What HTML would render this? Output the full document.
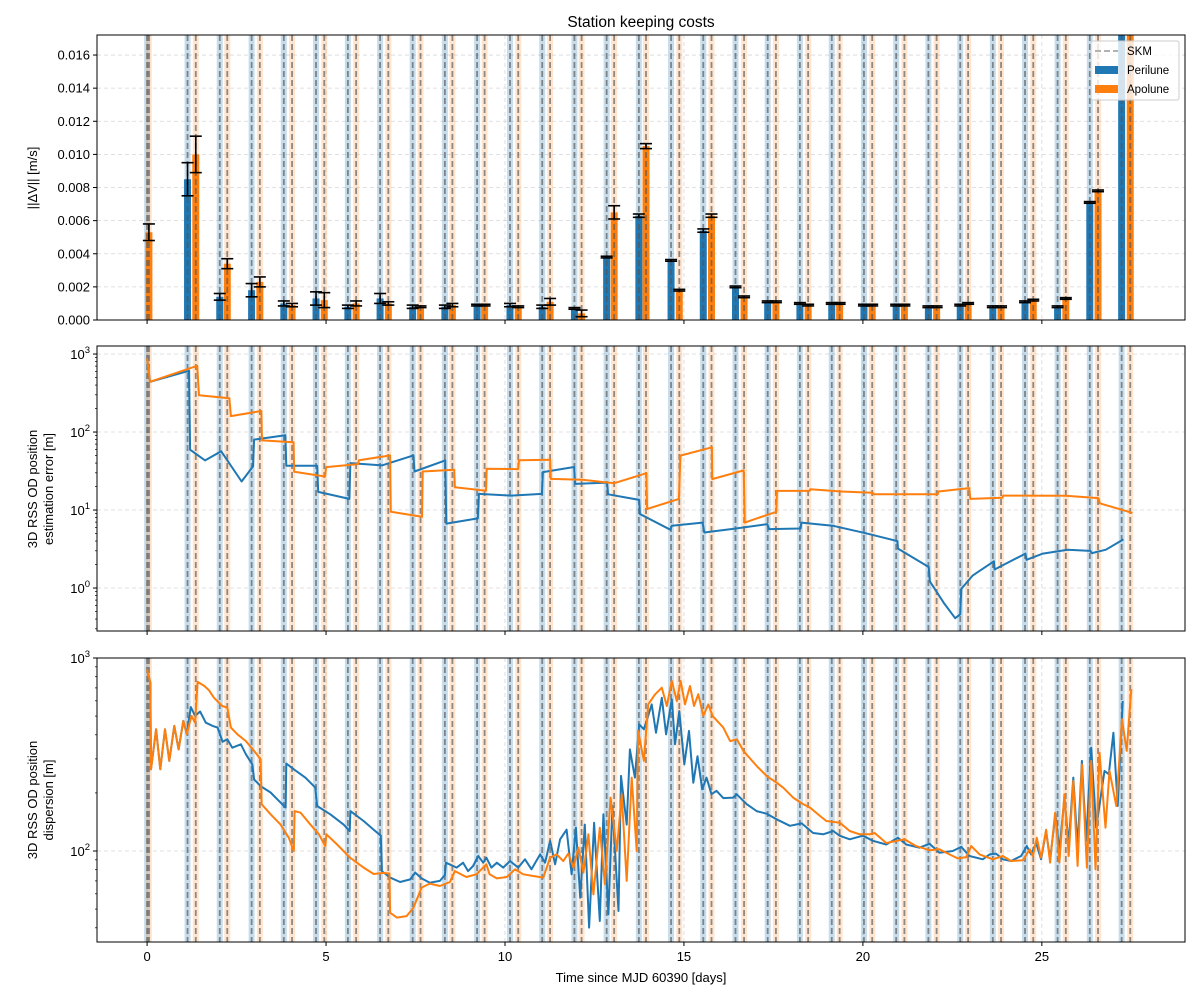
<!DOCTYPE html>
<html><head><meta charset="utf-8"><style>
html,body{margin:0;padding:0;background:#fff;}
svg text{font-family:"Liberation Sans","DejaVu Sans",sans-serif;fill:#000;}
</style></head><body>
<svg id="chart" width="1200" height="1000" viewBox="0 0 1200 1000" xmlns="http://www.w3.org/2000/svg">
<rect width="1200" height="1000" fill="#fff"/>
<text x="641" y="27" font-size="15.5" text-anchor="middle">Station keeping costs</text>
<text x="641" y="982" font-size="13" text-anchor="middle">Time since MJD 60390 [days]</text>
<text transform="translate(37,178) rotate(-90)" font-size="13" text-anchor="middle">||ΔV|| [m/s]</text>
<text transform="translate(37,489) rotate(-90)" font-size="13" text-anchor="middle"><tspan x="0" dy="0">3D RSS OD position</tspan><tspan x="0" dy="16">estimation error [m]</tspan></text>
<text transform="translate(37,800) rotate(-90)" font-size="13" text-anchor="middle"><tspan x="0" dy="0">3D RSS OD position</tspan><tspan x="0" dy="16">dispersion [m]</tspan></text>
<g id="layer"></g>
</svg>
<script>
// ---------- data ----------
const periluneTimes = [0.0,1.13,2.03,2.92,3.82,4.72,5.61,6.51,7.42,8.32,9.22,10.14,11.04,11.94,12.84,13.74,14.64,15.54,16.44,17.34,18.24,19.13,20.03,20.93,21.83,22.72,23.63,24.53,25.44,26.34,27.23];
const apoluneTimes = [0.05,1.36,2.24,3.15,4.05,4.95,5.84,6.74,7.64,8.53,9.43,10.37,11.26,12.14,13.05,13.94,14.87,15.77,16.68,17.57,18.47,19.35,20.26,21.16,22.06,22.94,23.86,24.76,25.67,26.57,27.47];
const periluneDV = [0,0.0085,0.0014,0.0018,0.0010,0.0013,0.0008,0.0013,0.0008,0.0008,0.0009,0.0009,0.0008,0.0007,0.0038,0.0063,0.0036,0.0054,0.0020,0.0011,0.0010,0.0010,0.0009,0.0009,0.0008,0.0009,0.0008,0.0011,0.0008,0.0071,0.0180];
const apoluneDV = [0.0053,0.0100,0.0034,0.0023,0.0009,0.0012,0.0010,0.0010,0.0008,0.0009,0.0009,0.0008,0.0011,0.0004,0.0065,0.0105,0.0018,0.0063,0.0014,0.0011,0.0009,0.0010,0.0009,0.0009,0.0008,0.0010,0.0008,0.0012,0.0013,0.0078,0.0180];
const periluneErr = [0,0.0010,0.0002,0.0004,0.00015,0.0004,0.0001,0.0003,0.0001,0.0001,0.00005,0.0001,0.0001,0.00005,0.00005,0.0001,0.00005,0.0001,0.00005,0.00005,0.00005,0.00005,0.00005,0.00005,0.00005,0.00005,0.00005,0.00005,0.00005,0.00005,0];
const apoluneErr = [0.0005,0.0011,0.0003,0.0003,0.0001,0.00045,0.00015,0.0001,0.00005,0.0001,0.00005,0.00005,0.0002,0.0002,0.0004,0.00015,0.00005,0.0001,0.00005,0.00005,0.00005,0.00005,0.00005,0.00005,0.00005,0.00005,0.00005,0.00005,0.00005,0.00005,0];
const dvTicks = [0,0.002,0.004,0.006,0.008,0.010,0.012,0.014,0.016];
const dvTickLabels = ["0.000","0.002","0.004","0.006","0.008","0.010","0.012","0.014","0.016"];
const xTicks = [0,5,10,15,20,25];
const xTickLabels = ["0","5","10","15","20","25"];
const midLogTicks = [0,1,2,3];
const botLogTicks = [2,3];

const estPeriT = [0,0.08,1.17,1.20,1.62,2.07,2.64,2.96,2.99,3.86,3.89,4.75,4.78,5.65,5.68,6.56,7.44,7.47,8.33,8.36,9.24,9.27,10.17,11.03,11.06,11.93,11.96,12.85,12.88,13.75,13.77,14.62,14.66,15.52,15.57,16.45,17.33,17.38,18.26,18.28,19.15,20.03,20.96,20.98,21.84,21.87,22.28,22.58,22.72,22.75,23.07,23.66,23.68,24.54,24.57,25.03,25.72,26.35,26.40,26.79,27.28];
const estPeriV = [880,440,610,59.4,43.3,56.6,23.2,36.2,80,91,37,37,17.1,13.9,40,37.3,50.2,31.2,43.3,6.7,7.8,16.1,15.3,16.1,30.6,35.6,21.6,22.5,15.9,13.5,8.9,5.6,6.3,6.9,5.15,5.8,6.6,5.7,5.8,6.9,6.3,5.1,4.0,3.2,1.86,1.22,0.625,0.41,0.46,0.975,1.45,2.2,1.73,2.76,2.3,2.76,3.1,2.99,2.8,3.1,4.2];
const estApoT = [0,0.08,1.40,1.45,2.30,2.34,3.19,3.21,4.09,4.11,4.97,5.00,5.89,5.92,6.79,6.81,7.68,7.70,8.58,8.60,9.47,9.49,10.37,10.39,11.26,11.28,12.16,13.05,13.95,13.97,14.86,14.90,15.78,15.79,16.67,16.70,17.58,17.60,18.51,18.53,19.39,20.27,20.29,22.09,22.11,22.97,23.00,23.90,23.92,25.67,26.58,26.62,27.53];
const estApoV = [880,440,706,296,271,160,186,78,74,31,26.9,35.5,38.8,43.4,50.2,9.5,8.2,31.2,32.8,19.6,17.7,33.8,33.5,43.4,44.2,25.1,24.4,22.1,29.7,10.3,13.9,49.8,63.7,24.9,32.2,6.9,9.5,17.6,17.6,18.5,17.3,16.7,15.9,15.9,17.3,19.1,13.9,14.4,15.3,15.2,14.2,12.2,9.2];

const dispApoT = [0,0.09,0.11,0.25,0.37,0.50,0.62,0.76,0.88,1.01,1.11,1.24,1.34,1.41,1.60,1.73,1.87,2.10,2.24,2.34,2.52,2.76,2.99,3.17,3.20,3.45,3.73,3.96,4.10,4.12,4.29,4.52,4.80,4.98,5.01,5.31,5.68,6.05,6.33,6.60,6.77,6.79,6.98,7.25,7.44,7.67,7.90,8.18,8.46,8.60,8.92,9.20,9.48,9.57,9.77,10.05,10.28,10.51,10.79,11.07,11.26,11.44,11.63,11.77,11.91,12.05,12.19,12.33,12.47,12.65,12.79,12.95,13.12,13.26,13.40,13.54,13.68,13.72,13.88,14.00,14.19,14.38,14.52,14.66,14.80,14.91,15.03,15.17,15.28,15.40,15.54,15.68,15.80,16.10,16.29,16.48,16.66,17.03,17.31,17.59,17.77,18.05,18.33,18.52,18.80,18.98,19.36,19.63,19.91,20.19,20.33,20.65,21.16,21.49,21.86,22.14,22.42,22.65,22.89,23.03,23.26,23.63,23.91,24.14,24.47,24.66,24.75,24.86,24.98,25.12,25.23,25.37,25.49,25.63,25.75,25.88,26.00,26.12,26.26,26.38,26.50,26.61,26.78,26.89,27.08,27.24,27.37,27.50];
const dispApoV = [873,745,265,427,265,427,293,445,336,472,403,501,462,753,716,680,622,564,553,436,403,371,330,299,175,155,137,117,100,161,158,140,122,106,122,108,92,82,76,77,76.4,47.9,45.2,46,50.8,64.6,67.8,65.9,69.1,78.7,73.3,75.7,85.3,75.7,72.1,73.3,80.4,75.7,74.2,72.8,92.3,96,88.8,96.9,82,104,77.3,122,59.6,132,67.2,189,100,197,70,240,100,419,293,575,648,702,564,760,599,760,575,716,564,649,501,575,501,436,371,379,330,276,245,226,213,189,175,168,152,143,140,127,122,122,124,110,115,106,101,102,96,91.6,93,106,96,90.6,94.2,88.8,89.5,102,94.2,117,92.3,129,87.1,158,87.1,197,94.2,231,83.6,281,82,293,80.4,323,132,260,171,481,330,689];
const dispPeriT = [0,0.09,0.11,0.25,0.37,0.50,0.62,0.76,0.88,1.01,1.11,1.22,1.34,1.48,1.64,1.83,1.97,2.11,2.24,2.38,2.62,2.76,2.94,2.99,3.17,3.45,3.68,3.87,3.89,4.10,4.42,4.70,4.75,5.12,5.49,5.66,5.68,6.05,6.33,6.53,6.56,6.79,7.07,7.35,7.49,7.67,7.90,8.18,8.32,8.35,8.65,8.83,8.97,9.11,9.25,9.39,9.48,9.62,9.77,9.95,10.14,10.37,10.56,10.74,10.98,11.12,11.26,11.40,11.54,11.72,11.86,11.98,12.10,12.23,12.35,12.49,12.65,12.75,12.89,13.00,13.17,13.24,13.40,13.49,13.63,13.75,13.88,14.10,14.22,14.38,14.50,14.66,14.75,14.87,15.01,15.14,15.26,15.38,15.51,15.63,15.77,15.91,16.10,16.38,16.47,16.75,17.03,17.31,17.59,17.96,18.29,18.61,18.89,19.17,19.35,19.63,20.00,20.28,20.65,20.98,21.21,21.58,21.86,22.14,22.51,22.75,22.98,23.35,23.54,23.72,23.91,24.14,24.42,24.58,24.70,24.84,24.98,25.12,25.23,25.38,25.49,25.63,25.75,25.88,26.00,26.12,26.24,26.38,26.52,26.75,26.87,27.00,27.12,27.26];
const dispPeriV = [873,745,265,427,265,427,293,445,336,472,403,557,501,528,462,445,436,368,379,343,357,317,281,235,217,201,182,168,284,265,240,213,171,155,137,127,161,143,129,120,78.7,72.8,69.1,71.3,77.3,72.1,68.5,70,75.1,87,82,87,78.7,83.6,94.2,87,92.3,82,87,82,88.8,82,90.6,80.4,96,87,113,85.3,115,129,75.7,132,57.3,137,40.1,140,43.4,155,47,171,48.9,245,137,336,240,453,427,575,410,622,402,611,357,531,281,419,226,310,209,240,197,205,188,189,197,175,161,156,146,135,139,124,122,127,120,115,120,113,108,117,108,104,109,98,100,105,94.2,90.6,96,97,90.6,88.8,94.2,106,96,110,90.6,127,90.6,155,100,189,108,240,104,293,113,343,132,260,250,410,171,599];

// ---------- scales ----------
const T_MIN=-1.4, T_MAX=29.0, XL=97, XR=1185;
function xs(t){return XL+(t-T_MIN)/(T_MAX-T_MIN)*(XR-XL);}
const P={
  top:{y0:35,y1:320,min:0,max:0.01721,log:false},
  mid:{y0:346,y1:631,min:-0.551,max:3.103,log:true},
  bot:{y0:658,y1:942,min:1.5285,max:3.0,log:true}
};
function ys(p,v){const u=p.log?Math.log10(v):v;return p.y1-(u-p.min)/(p.max-p.min)*(p.y1-p.y0);}
const NS="http://www.w3.org/2000/svg";
const layer=document.getElementById('layer');
function mk(tag,attrs,parent){const e=document.createElementNS(NS,tag);for(const k in attrs)e.setAttribute(k,attrs[k]);(parent||layer).appendChild(e);return e;}
const BLUE="#1f77b4", ORANGE="#ff7f0e";

function panel(key,name){
  const p=P[key];
  const g=mk('g',{});
  
  
  const cp=mk('clipPath',{id:'clip-'+key},g);
  mk('rect',{x:XL,y:p.y0,width:XR-XL,height:p.y1-p.y0},cp);
  const inner=mk('g',{'clip-path':'url(#clip-'+key+')'},g);
  xTicks.forEach(t=>{const l=mk('line',{x1:xs(t),x2:xs(t),y1:p.y0,y2:p.y1,stroke:'#b0b0b0','stroke-opacity':0.5,'stroke-dasharray':'4,3','stroke-width':0.8},inner);
    
    });
  const yt = key==='top'?dvTicks:(key==='mid'?midLogTicks:botLogTicks).map(d=>Math.pow(10,d));
  yt.forEach(v=>{const y=ys(p,v);const l=mk('line',{x1:XL,x2:XR,y1:y,y2:y,stroke:'#b0b0b0','stroke-opacity':0.5,'stroke-dasharray':'4,3','stroke-width':0.8},inner);
    
    });
  periluneTimes.forEach(t=>{const r=mk('rect',{x:xs(t)-3,y:p.y0,width:6,height:p.y1-p.y0,fill:BLUE,'fill-opacity':0.25},inner);
    
    });
  apoluneTimes.forEach(t=>{const r=mk('rect',{x:xs(t)-3,y:p.y0,width:6,height:p.y1-p.y0,fill:ORANGE,'fill-opacity':0.2},inner);
    
    });
  return {g,inner,p};
}
function skmLines(inner,p){
  periluneTimes.concat(apoluneTimes).forEach(t=>{const l=mk('line',{x1:xs(t),x2:xs(t),y1:p.y0,y2:p.y1,stroke:'#555','stroke-opacity':0.65,'stroke-width':1.8,'stroke-dasharray':'6,3'},inner);
    
    });
}
function frame(g,p,key){
  const r=mk('rect',{x:XL,y:p.y0,width:XR-XL,height:p.y1-p.y0,fill:'none',stroke:'#000','stroke-width':1},g);
  
  
  xTicks.forEach((t,i)=>{mk('line',{x1:xs(t),x2:xs(t),y1:p.y1,y2:p.y1+4,stroke:'#000','stroke-width':1},g);
    if(key==='bot'){const tx=mk('text',{x:xs(t),y:p.y1+19,'font-size':13,'text-anchor':'middle'},g);tx.textContent=xTickLabels[i];
      
      }});
  if(key==='top'){
    dvTicks.forEach((v,i)=>{const y=ys(p,v);mk('line',{x1:XL-4,x2:XL,y1:y,y2:y,stroke:'#000'},g);
      const tx=mk('text',{x:XL-7,y:y+4.5,'font-size':13,'text-anchor':'end'},g);tx.textContent=dvTickLabels[i];
      
      });
  } else {
    const majors=key==='mid'?midLogTicks:botLogTicks;
    for(let d=-1;d<=3;d++){for(let m=1;m<10;m++){const lv=d+Math.log10(m);if(lv<p.min||lv>p.max)continue;const y=ys(p,Math.pow(10,lv));
      mk('line',{x1:XL-(m===1?4:2),x2:XL,y1:y,y2:y,stroke:'#000','stroke-width':m===1?1:0.7},g);}}
    majors.forEach(d=>{const y=ys(p,Math.pow(10,d));const tx=mk('text',{x:XL-7,y:y+5,'font-size':13,'text-anchor':'end'},g);
      
      
      const a=mk('tspan',{},tx);a.textContent='10';const b=mk('tspan',{dy:-6,'font-size':9.5},tx);b.textContent=String(d);});
  }
}
function line(inner,p,T,V,color,name){
  let d='';T.forEach((t,i)=>{d+=(i?'L':'M')+xs(t).toFixed(1)+','+ys(p,V[i]).toFixed(1);});
  const e=mk('path',{d:d,fill:'none',stroke:color,'stroke-width':2,'stroke-linejoin':'round'},inner);
  
  
}

(function(){const {g,inner,p}=panel('top','delta-v-panel');
  const W=7;
  periluneTimes.forEach((t,i)=>{if(periluneDV[i]<=0)return;const y=ys(p,periluneDV[i]);
    const b=mk('rect',{x:xs(t)-W/2,y:y,width:W,height:p.y1-y,fill:BLUE},inner);
    
    });
  apoluneTimes.forEach((t,i)=>{const y=ys(p,apoluneDV[i]);
    const b=mk('rect',{x:xs(t)-W/2,y:y,width:W,height:p.y1-y,fill:ORANGE},inner);
    
    });
  skmLines(inner,p);
  function err(t,v,e){if(v<=0)return;const x=xs(t),a=ys(p,v-e),b=ys(p,v+e);
    const eg=mk('g',{stroke:'#000','stroke-width':1.6},inner);
    
    
    mk('line',{x1:x,x2:x,y1:a,y2:b},eg);mk('line',{x1:x-6,x2:x+6,y1:a,y2:a},eg);mk('line',{x1:x-6,x2:x+6,y1:b,y2:b},eg);}
  periluneTimes.forEach((t,i)=>err(t,periluneDV[i],periluneErr[i]));
  apoluneTimes.forEach((t,i)=>err(t,apoluneDV[i],apoluneErr[i]));
  frame(g,p,'top');
  const lg=mk('g',{},g);
  
  
  mk('rect',{x:1091,y:41,width:88,height:59,rx:2,fill:'#fff','fill-opacity':0.8,stroke:'#ccc'},lg);
  mk('line',{x1:1095,x2:1118,y1:51,y2:51,stroke:'#999','stroke-width':1.6,'stroke-dasharray':'6,3'},lg);
  mk('rect',{x:1095,y:66,width:23,height:8,fill:BLUE},lg);
  mk('rect',{x:1095,y:85,width:23,height:8,fill:ORANGE},lg);
  [['SKM',55],['Perilune',74],['Apolune',93]].forEach(a=>{const tx=mk('text',{x:1127,y:a[1],'font-size':11.5},lg);tx.textContent=a[0];
    
    });
})();
(function(){const {g,inner,p}=panel('mid','estimation-error-panel');
  skmLines(inner,p);
  line(inner,p,estPeriT,estPeriV,BLUE,'perilune-estimation-line');
  line(inner,p,estApoT,estApoV,ORANGE,'apolune-estimation-line');
  frame(g,p,'mid');
})();
(function(){const {g,inner,p}=panel('bot','dispersion-panel');
  skmLines(inner,p);
  line(inner,p,dispPeriT,dispPeriV,BLUE,'perilune-dispersion-line');
  line(inner,p,dispApoT,dispApoV,ORANGE,'apolune-dispersion-line');
  frame(g,p,'bot');
})();
</script>
</body></html>
